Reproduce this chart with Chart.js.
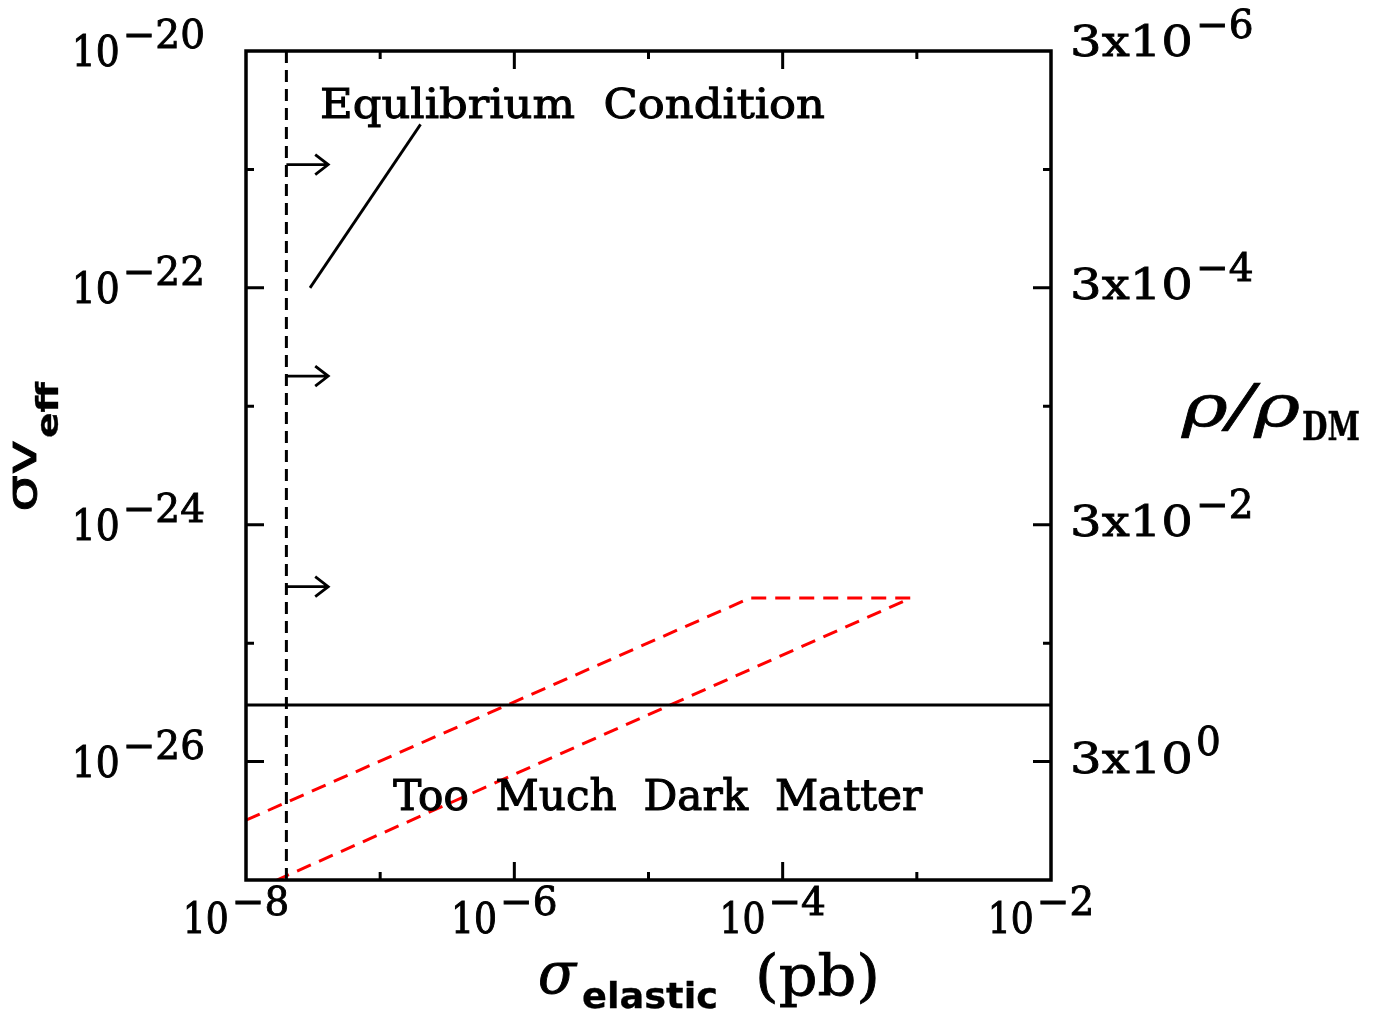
<!DOCTYPE html>
<html>
<head>
<meta charset="utf-8">
<script src="https://cdn.jsdelivr.net/npm/chart.js@4"></script>
<style>
html, body { margin: 0; padding: 0; background: #fff; }
#wrap { width: 1379px; height: 1017px; position: relative; }
</style>
</head>
<body>
<div id="wrap"><canvas id="chart"></canvas></div>
<script>
// axis ranges
const xRange = [1e-8, 1e-2];
const yRange = [1e-27, 1e-20];
const rhoRange = [3e-6, 30];

// tick labels (exponents)
const xTickExp = [-8, -6, -4, -2];
const yTickExp = [-20, -22, -24, -26];
const rhoTickExp = [-6, -4, -2, 0];

// curves
const equilibriumX = [2e-8, 2e-8];
const equilibriumY = [1e-27, 1e-20];
const relicX = [1e-8, 1e-2];
const relicY = [3e-26, 3e-26];
const regionX = [1e-8, 5.7e-5, 9e-4, 1.7e-8];
const regionY = [3.2e-27, 2.4e-25, 2.4e-25, 1e-27];
const pointerX = [3e-8, 2e-7];
const pointerY = [1e-22, 2.4e-21];
const arrowX = [2e-8, 4.1e-8];
const arrowY = [1.1e-21, 1.8e-23, 3e-25];

const zip = (xs, ys) => xs.map((x, i) => ({x: x, y: ys[i]}));

const SERIF = '"DejaVu Serif", serif';
const SANS = '"DejaVu Sans", "Liberation Sans", sans-serif';

// draw text squeezed/stretched to a given width, left edge at x
function fitText(ctx, text, font, x, y, width, weight) {
    ctx.font = font;
    const w = ctx.measureText(text).width;
    const k = width ? width / w : 1;
    ctx.save();
    ctx.translate(x, y);
    ctx.scale(k, 1);
    ctx.lineWidth = (weight || 0.9) / k;
    ctx.fillText(text, 0, 0);
    ctx.strokeText(text, 0, 0);
    ctx.restore();
    return w * k;
}

function measureFit(ctx, text, font, width) {
    ctx.font = font;
    return width || ctx.measureText(text).width;
}

function drawPow(ctx, base, baseW, exp, x, y, align) {
    ctx.textBaseline = 'middle';
    ctx.textAlign = 'left';
    const es = (exp < 0 ? '\u2212' : '') + Math.abs(exp);
    const bf = '43px ' + SERIF, ef = '39px ' + SERIF;
    const we = measureFit(ctx, es, ef);
    const w = baseW + 3 + we;
    let x0 = x;
    if (align === 'right') x0 = x - w;
    if (align === 'center') x0 = x - w / 2;
    fitText(ctx, base, bf, x0, y, baseW);
    fitText(ctx, es, ef, x0 + baseW + 3, y - 17);
}

const overlay = {
    id: 'overlay',
    afterDraw(chart) {
        const ctx = chart.ctx;
        const xs = chart.scales.x, ys = chart.scales.y, rs = chart.scales.rho;
        const a = chart.chartArea;
        ctx.save();
        ctx.strokeStyle = '#000';
        ctx.fillStyle = '#000';

        // frame
        ctx.lineWidth = 3.5;
        ctx.strokeRect(a.left, a.top, a.right - a.left, a.bottom - a.top);

        // ticks
        ctx.lineWidth = 3;
        ctx.beginPath();
        for (let e = -7; e <= -3; e++) {
            const p = xs.getPixelForValue(Math.pow(10, e));
            const len = e % 2 === 0 ? 18 : 8;
            ctx.moveTo(p, a.bottom); ctx.lineTo(p, a.bottom - len);
            ctx.moveTo(p, a.top); ctx.lineTo(p, a.top + len);
        }
        for (let e = -26; e <= -21; e++) {
            const p = ys.getPixelForValue(Math.pow(10, e));
            const len = e % 2 === 0 ? 18 : 8;
            ctx.moveTo(a.left, p); ctx.lineTo(a.left + len, p);
        }
        for (let e = -5; e <= 0; e++) {
            const p = rs.getPixelForValue(3 * Math.pow(10, e));
            const len = e % 2 === 0 ? 18 : 8;
            ctx.moveTo(a.right, p); ctx.lineTo(a.right - len, p);
        }
        ctx.stroke();

        // tick labels
        xTickExp.forEach(e => {
            drawPow(ctx, '10', 46, e, xs.getPixelForValue(Math.pow(10, e)) - 10, a.bottom + 42, 'center');
        });
        yTickExp.forEach(e => {
            drawPow(ctx, '10', 48, e, a.left - 41, ys.getPixelForValue(Math.pow(10, e)) + 4, 'right');
        });
        rhoTickExp.forEach(e => {
            drawPow(ctx, '3x10', 123, e, a.right + 19, rs.getPixelForValue(3 * Math.pow(10, e)) - (e === -6 ? 6 : 0), 'left');
        });

        // arrows
        ctx.lineWidth = 2.8;
        arrowY.forEach(v => {
            const p = ys.getPixelForValue(v);
            const x0 = xs.getPixelForValue(arrowX[0]);
            const x1 = xs.getPixelForValue(arrowX[1]);
            ctx.beginPath();
            ctx.moveTo(x0, p); ctx.lineTo(x1, p);
            ctx.moveTo(x1 - 13, p - 10); ctx.lineTo(x1, p); ctx.lineTo(x1 - 13, p + 10);
            ctx.stroke();
        });

        // annotations
        ctx.textBaseline = 'alphabetic';
        ctx.textAlign = 'left';
        fitText(ctx, 'Equlibrium  Condition', '41px ' + SERIF, xs.getPixelForValue(3.56e-8), ys.getPixelForValue(2.7e-21), 505, 1.1);
        fitText(ctx, 'Too  Much  Dark  Matter', '42px ' + SERIF, xs.getPixelForValue(1.25e-7), ys.getPixelForValue(3.9e-27), 529, 1.1);

        // x title
        const xb = a.bottom + 113;
        fitText(ctx, '\u03c3', 'italic 58px ' + SERIF, 538, xb, 38);
        fitText(ctx, 'elastic', 'bold 36px ' + SANS, 582, xb + 15, 136, 0.3);
        fitText(ctx, '(pb)', '56px ' + SERIF, 755, xb + 2, 125);

        // y title (left, rotated)
        ctx.save();
        ctx.translate(36, 512);
        ctx.rotate(-Math.PI / 2);
        fitText(ctx, '\u03c3v', '42px ' + SANS, 0, 0, 72, 1.2);
        fitText(ctx, 'eff', 'bold 30px ' + SANS, 74, 22, 56, 0.4);
        ctx.restore();

        // right title
        fitText(ctx, '\u03c1/\u03c1', 'italic 58px ' + SERIF, 1182, 426, 118);
        fitText(ctx, 'DM', 'bold 40px ' + SERIF, 1302, 440, 58, 0.3);

        ctx.restore();
    }
};

const noFrame = {grid: {display: false}, border: {display: false}, ticks: {display: false}};

new Chart(document.getElementById('chart'), {
    type: 'scatter',
    data: {
        datasets: [
            {data: zip(equilibriumX, equilibriumY), showLine: true, borderColor: '#000', borderWidth: 3, borderDash: [12, 7], pointRadius: 0},
            {data: zip(relicX, relicY), showLine: true, borderColor: '#000', borderWidth: 3, pointRadius: 0},
            {data: zip(regionX, regionY), showLine: true, borderColor: '#ff0000', borderWidth: 3, borderDash: [15, 9], pointRadius: 0},
            {data: zip(pointerX, pointerY), showLine: true, borderColor: '#000', borderWidth: 2.8, pointRadius: 0}
        ]
    },
    options: {
        responsive: true,
        maintainAspectRatio: false,
        animation: false,
        layout: {padding: {top: 51, left: 0, right: 0, bottom: 0}},
        plugins: {legend: {display: false}, tooltip: {enabled: false}},
        scales: {
            x: Object.assign({type: 'logarithmic', min: xRange[0], max: xRange[1], position: 'bottom',
                afterFit(s) { s.height = 137; }}, noFrame),
            y: Object.assign({type: 'logarithmic', min: yRange[0], max: yRange[1], position: 'left',
                afterFit(s) { s.width = 246; }}, noFrame),
            rho: Object.assign({type: 'logarithmic', min: rhoRange[0], max: rhoRange[1], position: 'right', reverse: true,
                afterFit(s) { s.width = 328; }}, noFrame)
        }
    },
    plugins: [overlay]
});
</script>
</body>
</html>
